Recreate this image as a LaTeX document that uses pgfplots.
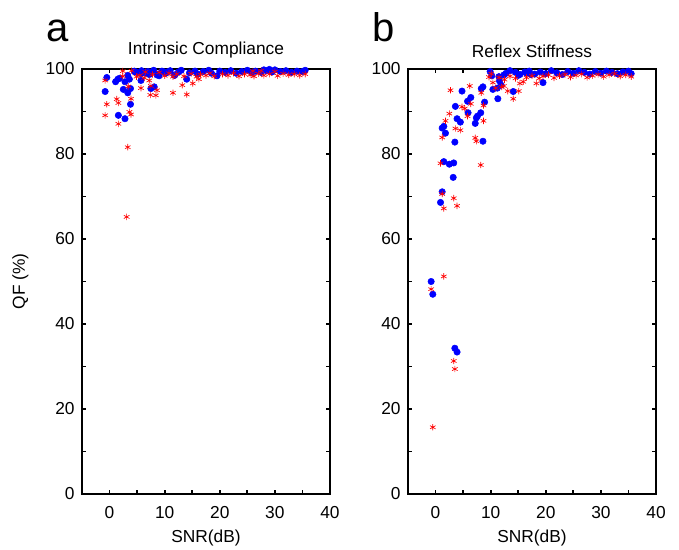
\documentclass[border=0pt]{standalone}
\usepackage{fontspec}
\setmainfont{Liberation Sans}
\usepackage{pgfplots}
\pgfplotsset{compat=1.18}
\pgfplotsset{
  qfaxis/.style={
    scale only axis, width=186pt, height=318.75pt,
    xmin=-5, xmax=40, ymin=0, ymax=100,
    xtick={0,10,20,30,40}, minor xtick={5,15,25,35},
    ytick={0,20,40,60,80,100}, minor ytick={10,30,50,70,90},
    tick align=inside, major tick length=3pt, minor tick length=3pt,
    every tick/.style={black, line width=1.3pt},
    axis line style={line width=1.7pt},
    tick label style={font=\fontsize{13}{15}\selectfont},
    xticklabel style={yshift=-6pt},
    yticklabel style={xshift=-2pt},
    /pgf/number format/assume math mode=true,
    xlabel={SNR(dB)},
    label style={font=\fontsize{13}{15}\selectfont},
    xlabel style={yshift=-1pt},
    title style={font=\fontsize{13}{15}\selectfont, yshift=-1pt},
    clip=false,
  },
  bl/.style={only marks, mark=*, mark size=2.4pt, color=blue, mark options={fill=blue, draw=blue}},
  rd/.style={only marks, mark=asterisk, mark size=2.4pt, color=red, mark options={line width=0.5pt}},
}
\begin{document}
\begin{tikzpicture}
\useasboundingbox (0,0) rectangle (509.25pt,412.5pt);
\begin{axis}[qfaxis, at={(61.5pt,42pt)}, anchor=south west,
  title={Intrinsic Compliance}, ylabel={QF (\%)}, ylabel style={yshift=6pt}]
\addplot[bl] coordinates {
(-0.5,98.0) (-0.8,94.7) (1.1,97.0) (1.5,97.6) (1.8,97.8) (2.8,97.0) (3.3,98.5) (3.6,97.6)
(2.5,95.2) (3.3,94.4) (3.8,95.4) (3.8,91.7) (1.6,89.1) (2.8,88.3)
(4.6,99.3) (5.7,98.9) (6.6,99.3) (7.2,98.7) (5.7,97.3) (7.5,95.4) (8.1,95.8)
(8.6,98.6) (9.0,98.4) (9.9,99.3) (11.8,98.5) (10.5,99.3) (14.0,97.6)
(4.5,99.5) (5.0,99.2) (5.8,99.6) (6.5,99.0) (7.0,99.4) (8.0,99.7) (8.8,98.8) (9.5,99.5)
(10.2,99.0) (11.0,99.6) (11.8,98.6) (12.5,99.3) (13.0,99.7) (14.5,99.1) (15.5,99.5)
(16.0,98.8) (17.0,99.4) (18.0,99.7) (18.5,99.0) (19.5,98.4) (20.0,99.5) (21.0,99.2)
(22.0,99.6) (23.0,99.0) (24.0,99.4) (25.0,99.7) (25.8,99.1) (26.5,99.5) (27.5,99.2)
(28.5,99.6) (29.5,99.3) (30.0,99.8) (31.0,99.4) (32.0,99.6) (33.0,99.2) (34.0,99.5)
(35.0,99.4) (35.5,99.7) (29.0,99.9) (28.0,99.8)
};
\addplot[rd] coordinates {
(-0.8,97.3) (-0.5,91.7) (-0.8,89.1) (1.3,92.9) (1.6,92.0) (1.6,87.1) (3.6,89.9) (3.9,89.3)
(3.9,93.0) (3.4,95.9) (2.4,99.5) (2.4,98.3) (4.9,98.2) (5.7,95.5) (6.3,97.9) (7.2,97.3)
(7.5,96.0) (7.4,93.9) (8.4,93.8) (8.6,95.0) (11.5,94.4) (13.2,96.2) (14.0,94.0)
(15.1,96.6) (16.2,97.6) (3.3,81.6) (3.1,65.2)
(4.0,99.6) (5.5,98.5) (6.5,99.3) (7.8,98.7) (9.0,99.2) (10.0,98.4) (10.8,99.0) (11.5,98.2)
(12.2,98.8) (13.5,98.3) (14.8,98.9) (15.8,98.2) (16.5,98.7) (17.5,98.5) (18.2,99.0)
(19.0,98.3) (20.5,98.8) (21.5,98.5) (22.5,99.0) (23.5,98.3) (24.5,98.8) (25.5,98.6)
(26.2,98.3) (27.0,98.9) (28.0,98.5) (29.0,98.8) (30.5,98.4) (31.5,98.9) (32.5,98.6)
(33.5,98.8) (34.5,98.5) (35.5,98.8) (26.0,99.5) (30.0,99.4) (27.5,99.6)
};
\node[font=\fontsize{30}{34}\selectfont, anchor=base] at (rel axis cs:-0.10,1.065) {a};
\end{axis}
\begin{axis}[qfaxis, at={(306pt,42pt)}, anchor=south west,
  title={Reflex Stiffness}]
\addplot[bl] coordinates {
(9.9,99.4) (10.2,98.4) (11.5,98.2) (11.6,97.2) (11.9,96.2) (12.4,98.6) (14.1,94.7)
(15.3,98.7) (16.2,99.3) (17.3,98.7) (8.6,95.8) (8.3,95.4) (10.4,95.2) (11.2,95.5) (11.3,93.0)
(4.8,94.8) (5.8,92.4) (6.4,93.3) (8.9,92.2) (3.6,91.2) (5.9,89.7) (8.2,89.7) (7.6,88.9)
(7.4,88.5) (3.9,88.3) (4.5,87.5) (7.2,87.2) (1.5,86.5) (1.2,86.1) (1.8,84.9) (3.5,82.8)
(8.6,83.0) (1.5,78.2) (2.5,77.6) (3.3,77.9) (3.2,74.5) (1.2,71.1) (0.9,68.6)
(-0.8,50.0) (-0.5,47.0) (3.5,34.3) (3.9,33.4)
(12.8,99.0) (13.5,99.6) (14.5,99.2) (15.0,98.5) (16.5,99.0) (17.0,99.5) (18.0,98.8)
(19.0,99.3) (19.5,96.8) (20.0,98.9) (21.0,99.6) (22.0,99.1) (23.0,98.7) (24.0,99.4)
(25.0,99.0) (26.0,99.6) (27.0,99.2) (28.0,98.8) (29.0,99.4) (30.0,99.0) (31.0,99.5)
(32.0,99.2) (33.0,98.9) (34.0,99.3) (35.0,99.5) (35.5,98.9)
};
\addplot[rd] coordinates {
(2.7,95.0) (6.2,96.0) (8.3,94.4) (4.8,91.1) (5.3,90.7) (6.4,91.8) (8.7,91.4) (2.5,89.5)
(5.8,88.9) (1.8,87.8) (8.7,87.8) (3.6,86.0) (4.5,85.6) (1.2,83.9) (7.2,83.8) (7.4,83.0)
(10.4,96.8) (10.9,95.5) (12.0,95.8) (12.4,96.0) (13.1,94.8) (14.1,93.0) (15.1,94.8)
(9.7,98.1) (10.1,98.9)
(0.9,77.8) (8.2,77.4) (1.2,70.6) (3.3,69.6) (3.9,67.8) (1.5,67.2) (1.5,51.2)
(-0.8,48.2) (3.3,31.3) (3.5,29.4) (-0.5,15.7)
(11.5,98.0) (12.5,97.5) (13.5,98.3) (14.5,97.8) (15.3,96.6) (15.9,97.0) (16.5,98.0)
(17.5,98.4) (18.3,96.6) (18.8,97.8) (19.5,98.3) (20.5,98.6) (21.5,97.9) (22.5,98.4)
(23.5,98.7) (24.5,98.1) (25.5,98.5) (26.5,98.8) (27.5,98.0) (28.5,98.4) (29.5,98.7)
(30.5,98.2) (31.5,98.6) (32.5,98.9) (33.5,98.3) (34.5,98.6) (35.5,98.2)
};
\node[font=\fontsize{30}{34}\selectfont, anchor=base] at (rel axis cs:-0.10,1.065) {b};
\end{axis}
\end{tikzpicture}
\end{document}
